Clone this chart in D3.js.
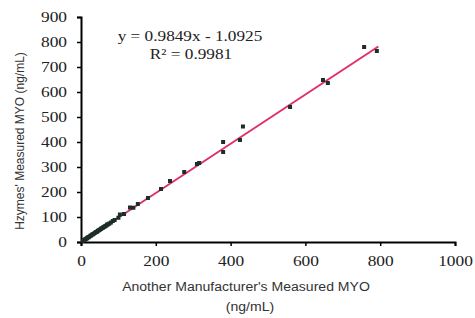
<!DOCTYPE html>
<html>
<head>
<meta charset="utf-8">
<script src="https://cdn.jsdelivr.net/npm/d3@7"></script>
<style>
  body { margin: 0; background: #fff; }
  svg { display: block; }
</style>
</head>
<body>
<div id="chart"></div>
<script>
// measured pairs: another manufacturer (x) vs Hzymes (y)
var otherMYO = [5, 8, 10, 12, 14, 16, 18, 20, 22, 25, 27, 30, 32, 35, 38, 40, 43, 45, 48, 50,
                53, 55, 58, 60, 63, 65, 68, 70, 73, 76, 80, 85, 90, 100, 104, 115, 131, 140, 152,
                179, 214, 238, 276, 310, 316, 380, 380, 425, 433, 559, 647, 660, 757, 791];
var hzymesMYO = [4, 7, 9, 12, 13, 15, 18, 19, 21, 25, 26, 30, 31, 34, 37, 40, 41, 45, 47, 49,
                 52, 55, 56, 60, 61, 64, 66, 70, 71, 74, 78, 84, 88, 97, 110, 112, 138, 137, 152,
                 176, 212, 244, 280, 312, 316, 400, 360, 408, 462, 540, 648, 636, 780, 764];
var xTicks = [0, 200, 400, 600, 800, 1000];
var yTicks = [0, 100, 200, 300, 400, 500, 600, 700, 800, 900];
var slope = 0.9849, intercept = -1.0925;
var fitRange = [0, 795];

var W = 475, H = 318;
var margin = {top: 17, right: 20, bottom: 76, left: 81};
var width = 455 - margin.left;
var height = 242 - margin.top;

// the source picture is a bit wider than tall, so stretch text sideways
function stretch(sel, k) {
    sel.each(function() {
        var len = this.getComputedTextLength();
        d3.select(this).attr("textLength", len * k).attr("lengthAdjust", "spacingAndGlyphs");
    });
}

var svg = d3.select("#chart").append("svg")
    .attr("width", W).attr("height", H)
  .append("g")
    .attr("transform", "translate(" + margin.left + "," + margin.top + ")");

var x = d3.scaleLinear().domain([0, 1000]).range([0, width]);
var y = d3.scaleLinear().domain([0, 900]).range([height, 0]);

var xAxis = svg.append("g")
    .attr("transform", "translate(0," + height + ")")
    .call(d3.axisBottom(x).tickValues(xTicks).tickFormat(d3.format("d"))
        .tickSizeOuter(0).tickSize(4).tickPadding(10));
var yAxis = svg.append("g")
    .call(d3.axisLeft(y).tickValues(yTicks).tickSizeOuter(0).tickSize(4).tickPadding(10));

[xAxis, yAxis].forEach(function(a) {
    a.select(".domain").attr("stroke", "#000").attr("stroke-width", 2);
    a.selectAll(".tick line").attr("stroke", "#000").attr("stroke-width", 1.5);
    a.selectAll(".tick text")
        .attr("fill", "#222")
        .style("font-family", "'Liberation Serif', 'DejaVu Serif', serif")
        .style("font-size", "14px")
        .call(stretch, 1.24);
});

// fit line
svg.append("line")
    .attr("x1", x(fitRange[0])).attr("y1", y(slope * fitRange[0] + intercept))
    .attr("x2", x(fitRange[1])).attr("y2", y(slope * fitRange[1] + intercept))
    .attr("stroke", "#e0306a")
    .attr("stroke-width", 2);

// points
var pts = otherMYO.map(function(v, i) { return {x: v, y: hzymesMYO[i]}; });
svg.selectAll("rect.pt")
    .data(pts)
    .enter()
    .append("rect")
    .attr("class", "pt")
    .attr("x", function(d) { return x(d.x) - 2; })
    .attr("y", function(d) { return y(d.y) - 2; })
    .attr("width", 4)
    .attr("height", 4)
    .attr("fill", "#1c2e26");

// equation
svg.append("text")
    .attr("x", 190 - margin.left).attr("y", 41 - margin.top)
    .attr("text-anchor", "middle")
    .style("font-family", "'Liberation Serif', serif")
    .style("font-size", "14px")
    .attr("fill", "#222")
    .text("y = 0.9849x - 1.0925")
    .call(stretch, 1.23);
svg.append("text")
    .attr("x", 191 - margin.left).attr("y", 59 - margin.top)
    .attr("text-anchor", "middle")
    .style("font-family", "'Liberation Serif', serif")
    .style("font-size", "14px")
    .attr("fill", "#222")
    .text("R² = 0.9981")
    .call(stretch, 1.23);

// axis titles
svg.append("text")
    .attr("x", 246 - margin.left).attr("y", 291 - margin.top)
    .attr("text-anchor", "middle")
    .style("font-family", "'Liberation Sans', Arial, sans-serif")
    .style("font-size", "12px")
    .attr("fill", "#333")
    .text("Another Manufacturer's Measured MYO")
    .call(stretch, 1.17);
svg.append("text")
    .attr("x", 250 - margin.left).attr("y", 311 - margin.top)
    .attr("text-anchor", "middle")
    .style("font-family", "'Liberation Sans', Arial, sans-serif")
    .style("font-size", "12px")
    .attr("fill", "#333")
    .text("(ng/mL)")
    .call(stretch, 1.17);
svg.append("text")
    .attr("transform", "translate(" + (24 - margin.left) + "," + (141 - margin.top) + ") rotate(-90)")
    .attr("text-anchor", "middle")
    .style("font-family", "'Liberation Sans', Arial, sans-serif")
    .style("font-size", "12px")
    .attr("fill", "#333")
    .text("Hzymes' Measured MYO (ng/mL)");
</script>
</body>
</html>
